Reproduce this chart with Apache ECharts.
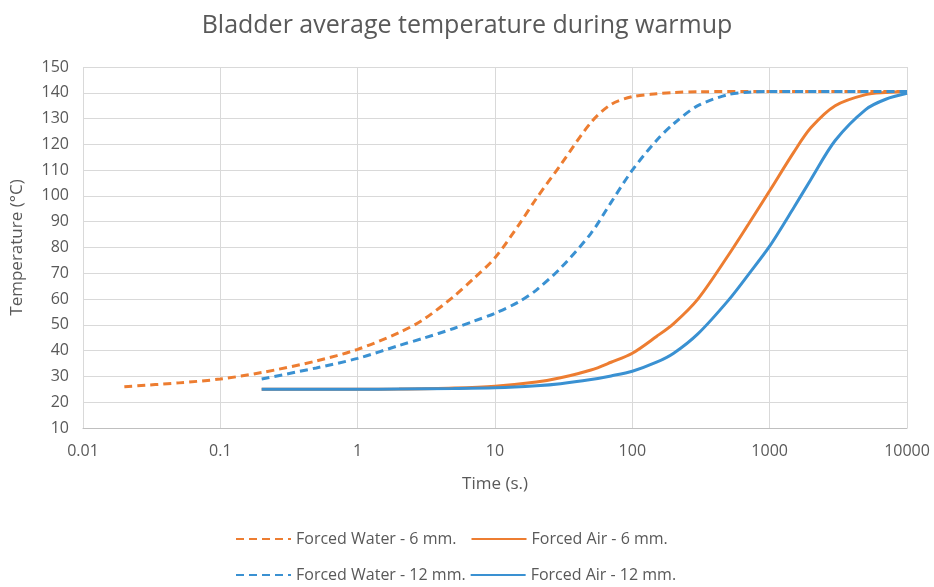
<!DOCTYPE html>
<html lang="en">
<head>
  <meta charset="UTF-8">
  <title>Bladder average temperature during warmup</title>
  <script src="https://cdn.jsdelivr.net/npm/echarts@6/dist/echarts.min.js"></script>
  <style>
    html, body { margin: 0; padding: 0; background: #fff; }
    #chart { width: 934px; height: 587px; }
  </style>
</head>
<body>
  <div id="chart"></div>
  <script>
    // data: [time (s), temperature (°C)]
    const waterSix = [
      [0.02, 26], [0.05, 27.5], [0.1, 29], [0.2, 31.5], [0.5, 36], [1, 40.5],
      [2, 47], [3, 52], [5, 61], [7, 68], [10, 76], [15, 89], [20, 99],
      [30, 112], [50, 128.5], [70, 135.5], [100, 138.5], [150, 139.6],
      [200, 140.1], [300, 140.4], [1000, 140.5], [10000, 140.5]
    ];
    const waterTwelve = [
      [0.2, 29], [0.5, 33.3], [1, 37], [2, 42], [3, 44.8], [5, 48.6], [7, 51.4],
      [10, 54.5], [15, 59], [20, 63.5], [30, 72], [50, 85.5], [70, 97.5],
      [100, 110], [150, 121.5], [200, 128], [300, 135], [500, 139.3],
      [700, 140.2], [1000, 140.5], [10000, 140.5]
    ];
    const airSix = [
      [0.2, 25], [1, 25], [2, 25.1], [5, 25.5], [10, 26.2], [20, 27.8],
      [30, 29.5], [50, 32.5], [70, 35.5], [100, 39], [150, 45.5], [200, 50.5],
      [300, 60], [500, 77], [700, 89], [1000, 102], [1500, 117], [2000, 126.5],
      [3000, 135], [5000, 139.3], [7000, 140.1], [10000, 140.5]
    ];
    const airTwelve = [
      [0.2, 25], [1, 25], [2, 25.1], [5, 25.3], [10, 25.6], [20, 26.4],
      [30, 27.2], [50, 28.8], [70, 30.2], [100, 32], [150, 35.5], [200, 39],
      [300, 46.5], [500, 59.5], [700, 69.5], [1000, 80.5], [1500, 95.5], [2000, 106.5],
      [3000, 121.5], [5000, 133.5], [7000, 137.5], [10000, 139.8]
    ];
    const xTickLabels = ['0.01', '0.1', '1', '10', '100', '1000', '10000'];

    const orange = '#ED7D31';
    const blue = '#3A91D2';
    const textColor = '#595959';
    const font = '"Open Sans", sans-serif';

    function makeSeries(name, data, color, dashed) {
      return {
        name: name,
        type: 'line',
        data: data,
        smooth: 0.3,
        symbol: 'none',
        lineStyle: { color: color, width: 3, type: dashed ? [8, 5] : 'solid' },
        itemStyle: { color: color }
      };
    }

    const chart = echarts.init(document.getElementById('chart'));

    const legendStyle = {
      left: 230,
      itemWidth: 55,
      itemHeight: 14,
      itemStyle: { opacity: 0 },
      textStyle: { color: textColor, fontSize: 16, fontFamily: font }
    };

    chart.setOption({
      animation: false,
      title: {
        text: 'Bladder average temperature during warmup',
        left: 'center',
        top: 8,
        textStyle: { color: textColor, fontSize: 25, fontWeight: 'normal', fontFamily: font }
      },
      legend: [
        Object.assign({ data: ['Forced Water - 6 mm.', 'Forced Air - 6 mm.'], top: 526, itemGap: 14 }, legendStyle),
        Object.assign({ data: ['Forced Water - 12 mm.', 'Forced Air - 12 mm.'], top: 562, itemGap: 4 }, legendStyle)
      ],
      grid: { left: 83, right: 27, top: 67, bottom: 159 },
      xAxis: {
        type: 'log',
        logBase: 10,
        min: 0.01,
        max: 10000,
        name: 'Time (s.)',
        nameLocation: 'middle',
        nameGap: 48,
        nameTextStyle: { color: textColor, fontSize: 17, fontFamily: font },
        axisLine: { lineStyle: { color: '#bfbfbf' } },
        axisTick: { show: false },
        axisLabel: {
          color: textColor, fontSize: 16, fontFamily: font, margin: 15,
          formatter: function (v) {
            const i = Math.round(Math.log10(v)) + 2;
            return xTickLabels[i] !== undefined ? xTickLabels[i] : '';
          }
        },
        splitLine: { show: true, lineStyle: { color: '#d9d9d9' } },
        minorTick: { show: false }
      },
      yAxis: {
        type: 'value',
        min: 10,
        max: 150,
        interval: 10,
        name: 'Temperature (°C)',
        nameLocation: 'middle',
        nameGap: 57,
        nameTextStyle: { color: textColor, fontSize: 17, fontFamily: font },
        axisLine: { show: false },
        axisTick: { show: false },
        axisLabel: { color: textColor, fontSize: 16, fontFamily: font, margin: 14 },
        splitLine: { lineStyle: { color: '#d9d9d9' } }
      },
      series: [
        makeSeries('Forced Water - 6 mm.', waterSix, orange, true),
        makeSeries('Forced Air - 6 mm.', airSix, orange, false),
        makeSeries('Forced Water - 12 mm.', waterTwelve, blue, true),
        makeSeries('Forced Air - 12 mm.', airTwelve, blue, false)
      ]
    });
  </script>
</body>
</html>
